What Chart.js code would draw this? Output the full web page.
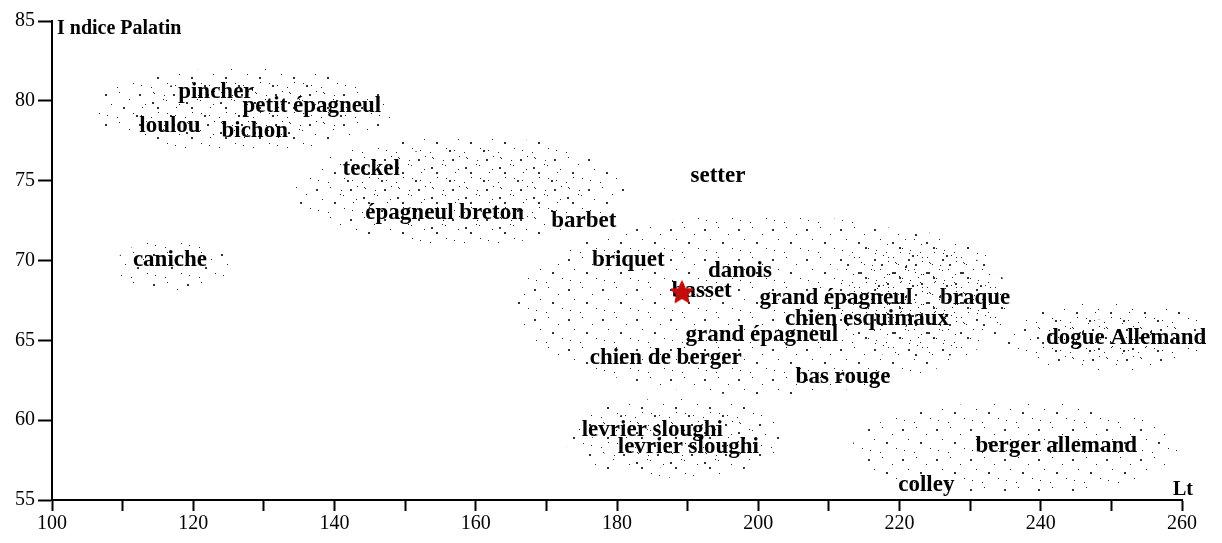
<!DOCTYPE html>
<html>
<head>
<meta charset="utf-8">
<script src="https://cdn.jsdelivr.net/npm/chart.js@4"></script>
<style>
  html, body { margin: 0; padding: 0; background: #fff; }
</style>
</head>
<body>
<canvas id="myChart" width="1222" height="543"></canvas>
<script>
// breed names and where they sit (Lt, indice palatin)
const breeds = ["pincher", "petit épagneul", "loulou", "bichon", "teckel", "épagneul breton",
  "barbet", "setter", "caniche", "briquet", "danois", "basset", "grand épagneul", "braque",
  "chien esquimaux", "grand épagneul", "chien de berger", "bas rouge", "dogue Allemand",
  "levrier sloughi", "levrier sloughi", "berger allemand", "colley"];
const breedLt = [123.2, 136.8, 116.7, 128.7, 145.2, 155.6,
  175.3, 194.3, 116.7, 181.6, 197.4, 192.0, 211.0, 230.7,
  215.4, 200.5, 186.9, 212.0, 252.1,
  185.0, 190.1, 242.2, 223.8];
const breedPalatin = [80.55, 79.7, 78.4, 78.1, 75.7, 73.0,
  72.5, 75.3, 70.0, 70.0, 69.35, 68.1, 67.65, 67.65,
  66.35, 65.3, 63.9, 62.7, 65.15,
  59.4, 58.3, 58.4, 55.95];

// the red star (basset)
const starLt = [189.2];
const starPalatin = [68.0];

// stippled clouds: centre, half width, half height (axis units), density 1-3
const cloudLt = [127.0, 157.8, 117.1, 200.5, 222.6, 249.5, 188.2, 236.4];
const cloudPalatin = [79.43, 74.42, 69.72, 67.22, 67.78, 65.21, 58.89, 58.26];
const cloudHalfLt = [21.2, 23.4, 8.1, 35.1, 12.5, 14.7, 15.6, 23.1];
const cloudHalfPalatin = [2.63, 3.44, 1.57, 5.64, 4.0, 2.19, 2.5, 2.88];
const cloudDensity = [2, 2, 1, 1, 3, 3, 2, 1];

const xMin = 100, xMax = 260, xStep = 10, xLabelEvery = 20;
const yMin = 55, yMax = 85, yStep = 5;

const serif = '"Liberation Serif", "DejaVu Serif", serif';

// tile used for the stipple fill
function makeStipple(ctx) {
  const tile = document.createElement("canvas");
  tile.width = 34; tile.height = 30;
  const t = tile.getContext("2d");
  const dots = [[3, 4, 2], [17, 2, 1], [27, 9, 1], [9, 14, 1], [21, 17, 2], [31, 23, 1], [5, 25, 1], [15, 27, 1]];
  dots.forEach(d => {
    t.fillStyle = d[2] === 2 ? "#333" : "#222";
    t.fillRect(d[0], d[1], d[2], d[2]);
  });
  return ctx.createPattern(tile, "repeat");
}

function makeStar() {
  const c = document.createElement("canvas");
  c.width = 24; c.height = 24;
  const s = c.getContext("2d");
  s.beginPath();
  for (let i = 0; i < 10; i++) {
    const r = i % 2 === 0 ? 11 : 5;
    const a = -Math.PI / 2 + i * Math.PI / 5;
    s.lineTo(12 + r * Math.cos(a), 12.5 + r * Math.sin(a));
  }
  s.closePath();
  s.fillStyle = "#c40c0c";
  s.lineJoin = "round";
  s.strokeStyle = "#c40c0c";
  s.lineWidth = 2;
  s.fill();
  s.stroke();
  return c;
}

const cloudsAndLabels = {
  id: "cloudsAndLabels",
  beforeDatasetsDraw(chart) {
    const ctx = chart.ctx;
    const x = chart.scales.x, y = chart.scales.y;
    const pattern = makeStipple(ctx);
    const layers = [[1, 0, 0], [0.75, 13, 8], [0.5, 6, 19]];
    ctx.save();
    cloudLt.forEach((lt, i) => {
      const cx = x.getPixelForValue(lt);
      const cy = y.getPixelForValue(cloudPalatin[i]);
      const rx = Math.abs(x.getPixelForValue(lt + cloudHalfLt[i]) - cx);
      const ry = Math.abs(y.getPixelForValue(cloudPalatin[i] + cloudHalfPalatin[i]) - cy);
      for (let k = 0; k < cloudDensity[i]; k++) {
        const [f, dx, dy] = layers[k];
        pattern.setTransform(new DOMMatrix().translate(dx + i * 7, dy + i * 5));
        ctx.fillStyle = pattern;
        ctx.beginPath();
        ctx.ellipse(cx, cy, rx * f, ry * f, 0, 0, Math.PI * 2);
        ctx.fill();
      }
    });

    ctx.fillStyle = "#000";
    ctx.font = "bold 23px " + serif;
    ctx.textAlign = "center";
    ctx.textBaseline = "middle";
    breeds.forEach((name, i) => {
      ctx.fillText(name, x.getPixelForValue(breedLt[i]), y.getPixelForValue(breedPalatin[i]));
    });
    ctx.restore();
  },
  afterDraw(chart) {
    const ctx = chart.ctx;
    const a = chart.chartArea;
    ctx.save();
    ctx.fillStyle = "#000";
    ctx.font = "bold 20px " + serif;
    ctx.textBaseline = "middle";
    ctx.textAlign = "left";
    ctx.fillText("I ndice Palatin", a.left + 5, a.top + 8);
    ctx.textAlign = "center";
    ctx.fillText("Lt", a.right + 1, a.bottom - 10);
    ctx.restore();
  }
};

const ctx = document.getElementById("myChart").getContext("2d");
new Chart(ctx, {
  type: "scatter",
  data: {
    datasets: [{
      label: "basset",
      data: starLt.map((v, i) => ({ x: v, y: starPalatin[i] })),
      pointStyle: makeStar(),
      pointRadius: 11
    }]
  },
  options: {
    responsive: false,
    animation: false,
    devicePixelRatio: 1,
    layout: { padding: { top: 21, right: 40, left: 0, bottom: 0 } },
    plugins: { legend: { display: false }, tooltip: { enabled: false } },
    scales: {
      x: {
        type: "linear", min: xMin, max: xMax,
        afterFit: s => { s.height = 43; },
        border: { color: "#000", width: 2 },
        grid: { drawOnChartArea: false, drawTicks: true, tickLength: 11, tickColor: "#000", tickWidth: 2 },
        ticks: {
          stepSize: xStep, autoSkip: false, maxRotation: 0, padding: 1, color: "#000",
          font: { family: serif, size: 20 },
          callback: v => (v % xLabelEvery === 0 ? v : "")
        }
      },
      y: {
        type: "linear", min: yMin, max: yMax,
        afterFit: s => { s.width = 52; },
        border: { color: "#000", width: 2 },
        grid: { drawOnChartArea: false, drawTicks: true, tickLength: 14, tickColor: "#000", tickWidth: 2 },
        ticks: { stepSize: yStep, padding: 3, color: "#000", font: { family: serif, size: 20 } }
      }
    }
  },
  plugins: [cloudsAndLabels]
});
</script>
</body>
</html>
